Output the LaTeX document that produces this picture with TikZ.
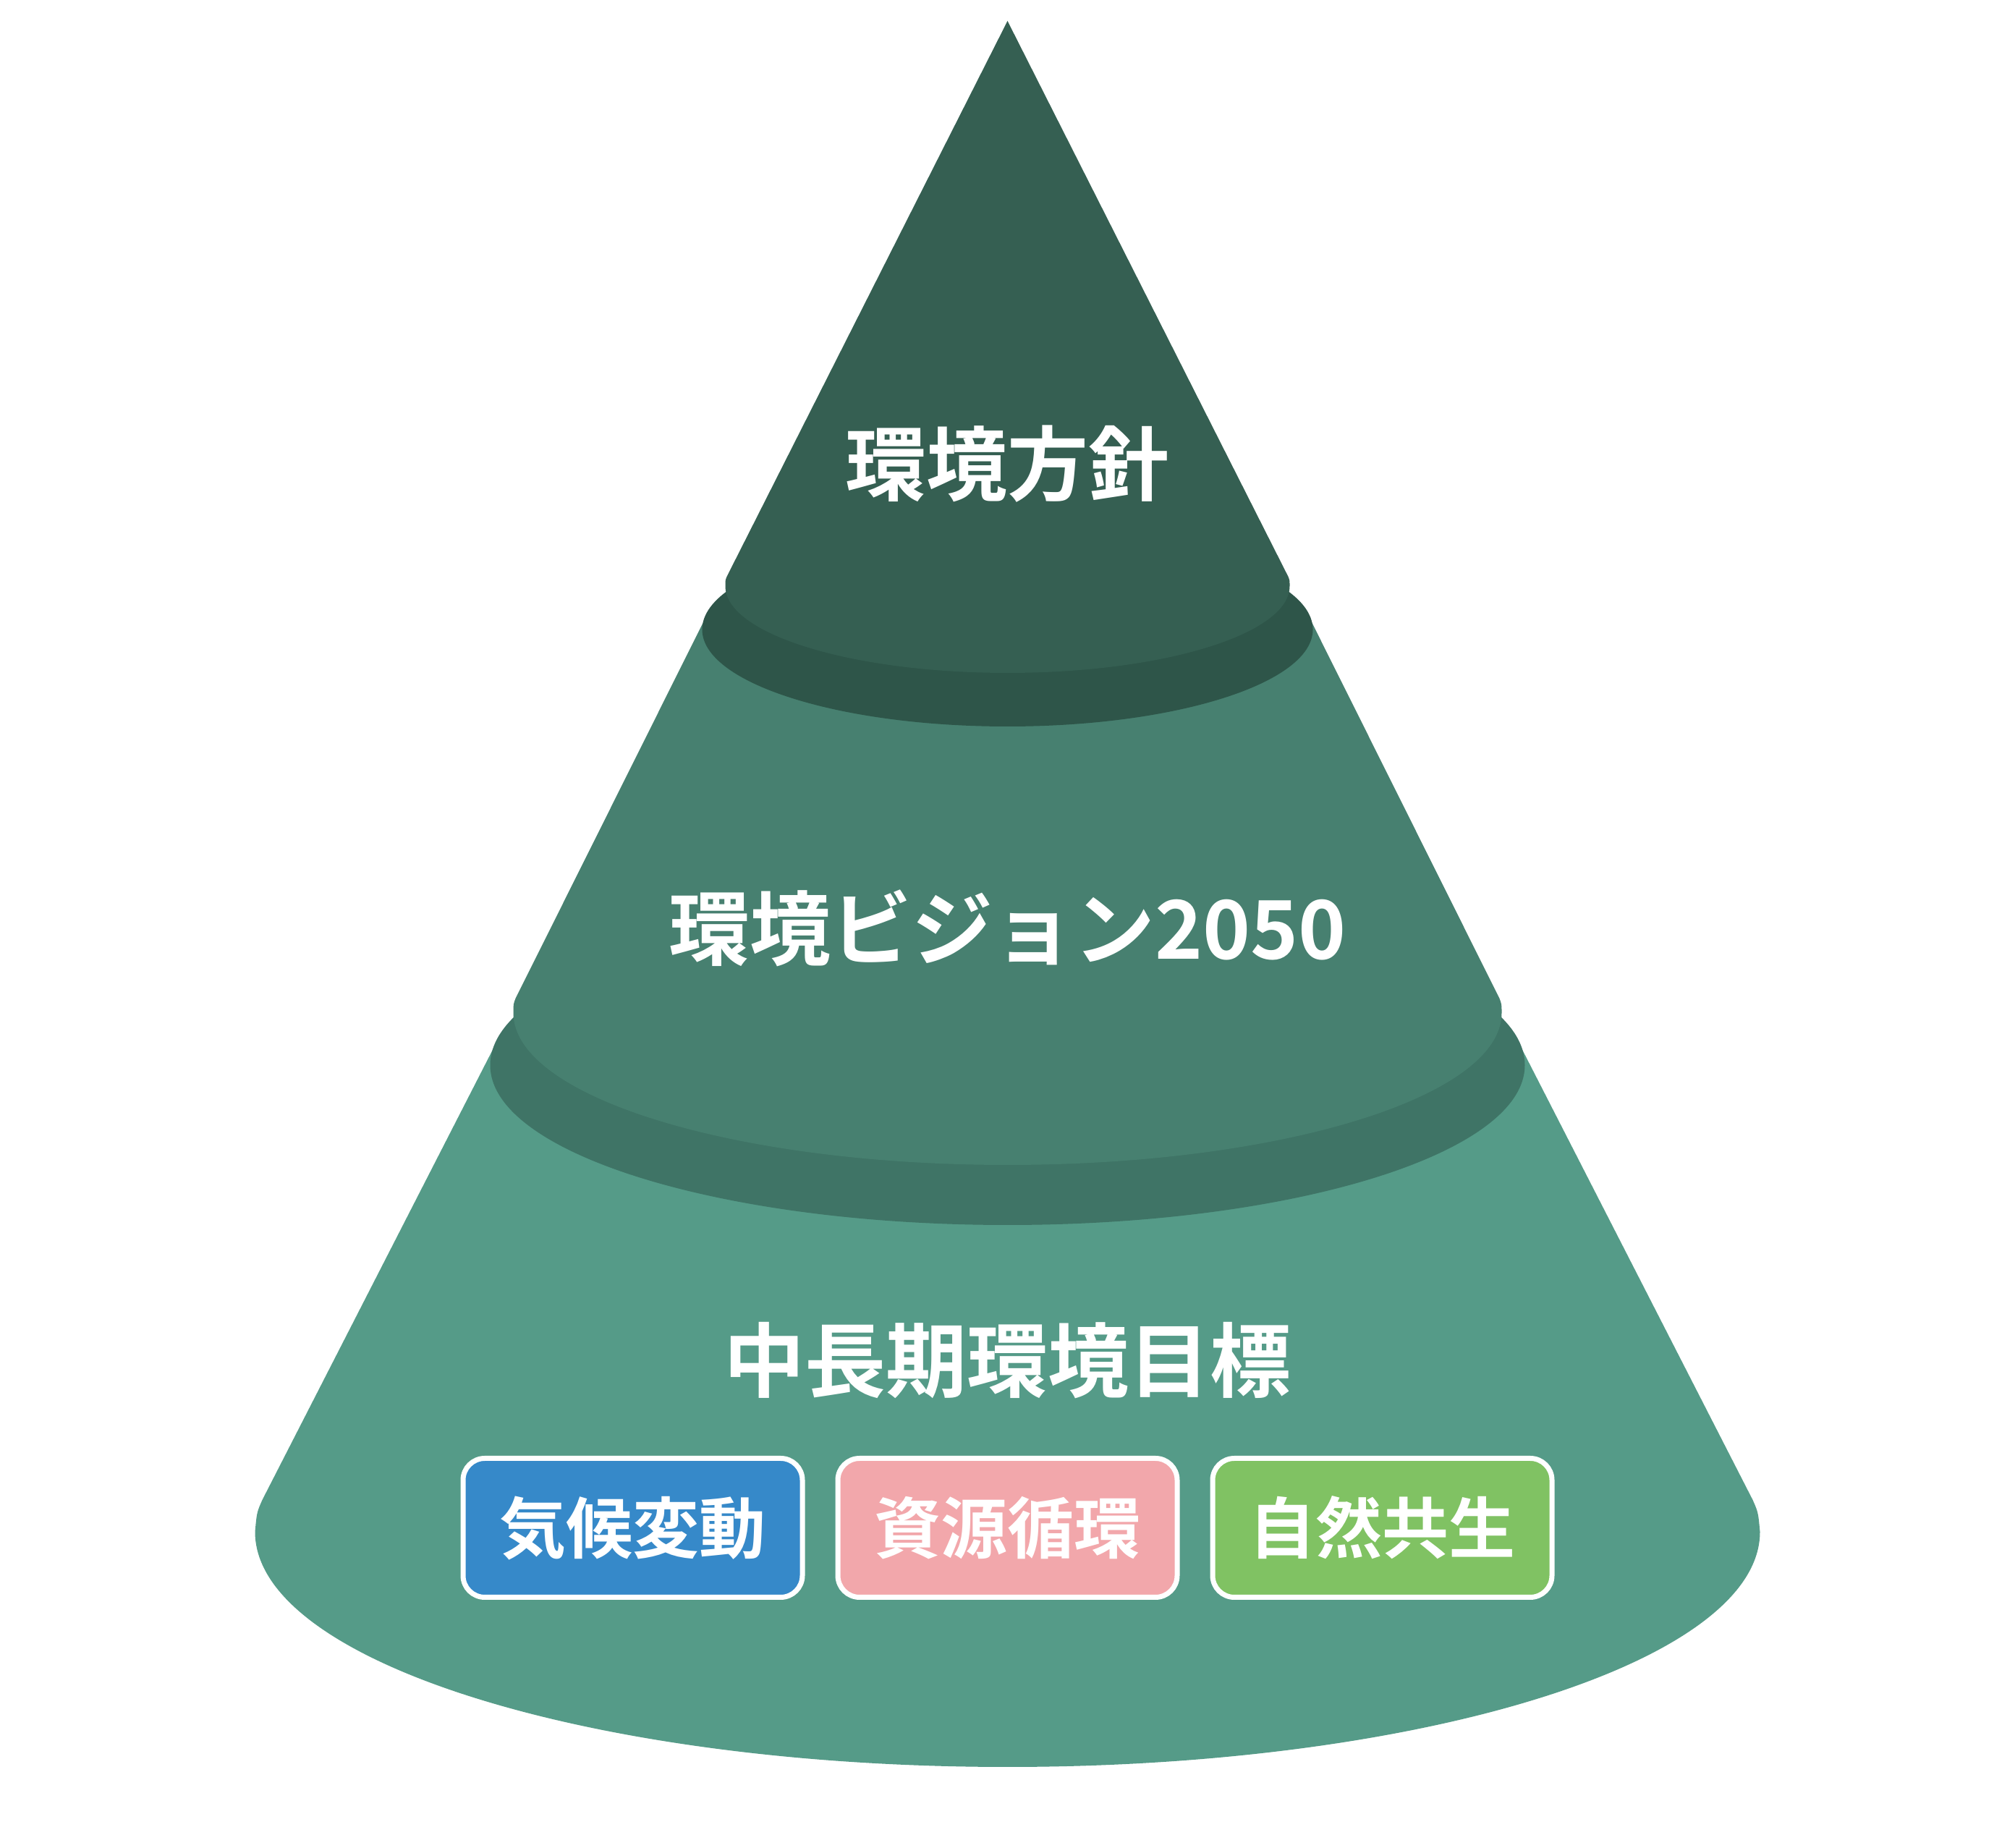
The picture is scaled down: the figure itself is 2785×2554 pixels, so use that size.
\documentclass[tikz,border=0pt]{standalone}
\usepackage{fontspec}
\newfontfamily\jp{Noto Sans CJK JP}[BoldFont={Noto Sans CJK JP Bold}]
\definecolor{topc}{HTML}{355F52}
\definecolor{rimone}{HTML}{2E5549}
\definecolor{midc}{HTML}{478070}
\definecolor{rimtwo}{HTML}{3F7466}
\definecolor{botc}{HTML}{559B88}
\definecolor{bluebox}{HTML}{3689C9}
\definecolor{pinkbox}{HTML}{F2A7AB}
\definecolor{greenbox}{HTML}{80C263}
\begin{document}
\begin{tikzpicture}[x=1pt,y=1pt,
  lbl/.style={text=white, inner sep=0pt, font=\jp\bfseries\fontsize{112}{130}\selectfont, text height=98pt, text depth=13pt},
  tagbox/.style={draw=white, line width=7pt, rounded corners=30pt, minimum width=469pt, minimum height=192pt, inner sep=0pt, text=white, font=\jp\bfseries\fontsize{92}{110}\selectfont, text height=81pt, text depth=11pt}]
\useasboundingbox (0,0) rectangle (2785,2554);
\fill[white] (0,0) rectangle (2785,2554);
% bottom layer
\fill[botc] (686.5,1114) -- (362.5,481) .. controls (355,464) .. (352.5,437)
  arc[start angle=180,end angle=360,x radius=1040,y radius=325]
  .. controls (2430,464) .. (2422.5,481) -- (2098.5,1114) -- cycle;
\fill[rimtwo] (1392.5,1082) ellipse[x radius=715,y radius=221];
% middle layer
\fill[midc] (975.5,1701) -- (712.5,1174) .. controls (709.5,1166) .. (709.5,1154)
  arc[start angle=180,end angle=360,x radius=683,y radius=210]
  .. controls (2075.5,1166) .. (2072.5,1174) -- (1809.5,1701) -- cycle;
\fill[rimone] (1392.5,1684) ellipse[x radius=422,y radius=134];
% top layer
\fill[topc] (1392.5,2525) -- (1004.5,1757) .. controls (1002.5,1752) .. (1002.5,1744)
  arc[start angle=180,end angle=360,x radius=390,y radius=120]
  .. controls (1782.5,1752) .. (1780.5,1757) -- cycle;
% labels
\node[lbl] (t1) at (1392.5,1913) {環境方針};
\node[lbl] (t2) at (1392.5,1271) {環境ビジョン2050};
\node[lbl] (t3) at (1392.5,674) {中長期環境目標};
% boxes
\node[tagbox, fill=bluebox] (b1) at (874.5,442.5) {気候変動};
\node[tagbox, fill=pinkbox] (b2) at (1392.5,442.5) {資源循環};
\node[tagbox, fill=greenbox] (b3) at (1910.5,442.5) {自然共生};
\end{tikzpicture}
\end{document}
